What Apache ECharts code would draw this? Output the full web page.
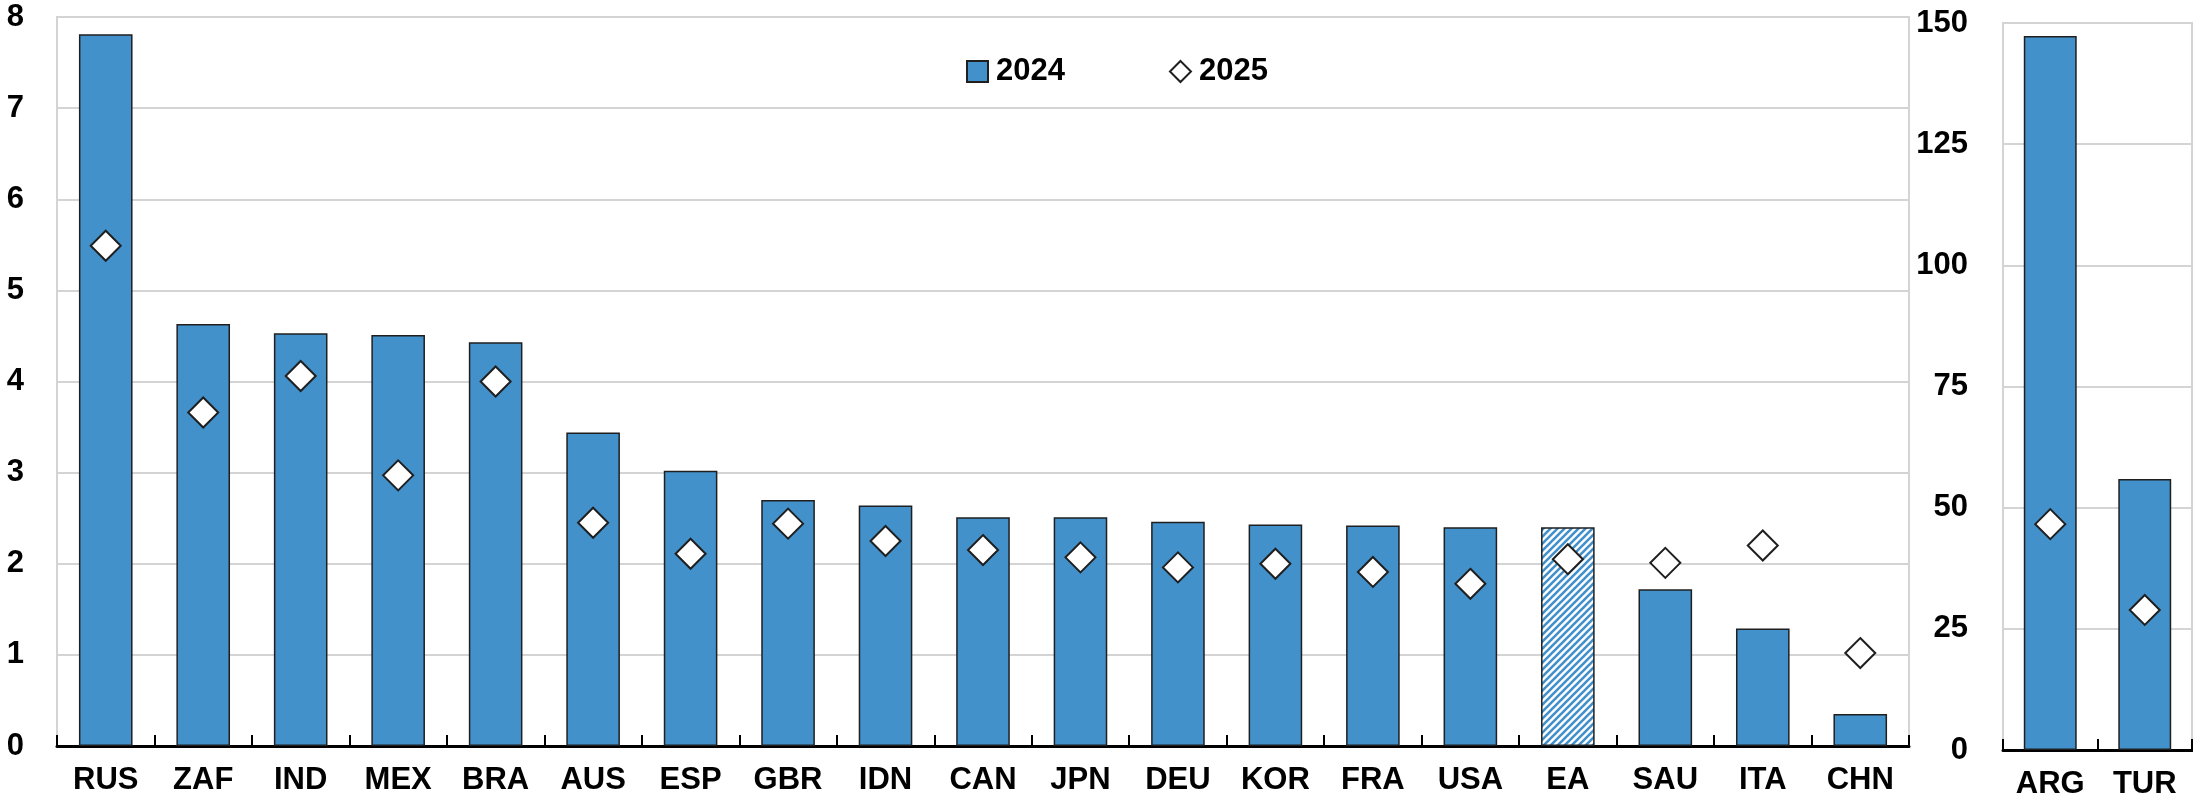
<!DOCTYPE html>
<html>
<head>
<meta charset="utf-8">
<script src="https://cdn.jsdelivr.net/npm/echarts@6/dist/echarts.min.js"></script>
<style>
html,body{margin:0;padding:0;background:#fff;}
#chart{width:2193px;height:801px;}
</style>
</head>
<body>
<div id="chart"></div>
<script>
// ---- Data ----
const mainCategories = ['RUS','ZAF','IND','MEX','BRA','AUS','ESP','GBR','IDN','CAN','JPN','DEU','KOR','FRA','USA','EA','SAU','ITA','CHN'];
const main2024 = [7.81,4.63,4.53,4.51,4.43,3.44,3.02,2.70,2.64,2.51,2.51,2.46,2.43,2.42,2.40,2.40,1.72,1.29,0.35];
const main2025 = [5.49,3.66,4.06,2.97,4.00,2.45,2.11,2.44,2.25,2.15,2.07,1.96,2.00,1.91,1.78,2.05,2.01,2.20,1.02];
const highCategories = ['ARG','TUR'];
const high2024 = [147.3,55.9];
const high2025 = [46.6,28.9];
const hatchedCategory = 'EA';
const seriesNames = ['2024','2025'];

// ---- Styles ----
const FONT = "'Liberation Sans Narrow','Arial Narrow','Liberation Sans',Arial,sans-serif";
const FS = 31;
const BLUE = '#4391CB';
const EDGE = '#1f1f1f';
const GRID = '#d4d4d4';

function hatch(){
  const s = 7;
  const c = document.createElement('canvas');
  c.width = s; c.height = s;
  const g = c.getContext('2d');
  g.fillStyle = '#ffffff'; g.fillRect(0,0,s,s);
  g.strokeStyle = BLUE; g.lineWidth = 2.6;
  g.beginPath();
  g.moveTo(-1, s+1); g.lineTo(s+1, -1);
  g.moveTo(-s/2-1, s/2+1); g.lineTo(s/2+1, -s/2-1);
  g.moveTo(s/2-1, s*1.5+1); g.lineTo(s*1.5+1, s/2-1);
  g.stroke();
  return {image: c, repeat: 'repeat'};
}
const hatchFill = hatch();

const mainBarData = main2024.map((v,i) => mainCategories[i] === hatchedCategory
  ? {value: v, itemStyle: {color: hatchFill}} : v);

const labelStyle = {fontFamily: FONT, fontSize: FS, fontWeight: 'bold', color: '#000'};

function xAxis(idx, cats){
  return {
    type: 'category', gridIndex: idx, data: cats,
    axisLine: {show: true, lineStyle: {color: '#000', width: 3}},
    axisTick: {show: true, inside: true, length: 11, lineStyle: {color: '#000', width: 2}},
    axisLabel: Object.assign({margin: 19, interval: 0}, labelStyle),
    splitLine: {show: false}
  };
}
function yAxis(idx, max, interval, margin){
  return {
    type: 'value', gridIndex: idx, min: 0, max: max, interval: interval,
    axisLine: {show: false}, axisTick: {show: false},
    axisLabel: Object.assign({margin: margin}, labelStyle),
    splitLine: {show: true, lineStyle: {color: GRID, width: 2}}
  };
}

const chart = echarts.init(document.getElementById('chart'), null, {renderer: 'canvas'});
chart.setOption({
  animation: false,
  backgroundColor: '#fff',
  legend: {
    data: [{name: seriesNames[0], icon: 'rect'}, {name: seriesNames[1], icon: 'diamond'}],
    left: 966, top: 56, padding: 0,
    itemWidth: 21, itemHeight: 21, itemGap: 104,
    textStyle: {fontFamily: FONT, fontSize: FS, fontWeight: 'bold', color: '#000', padding: [0,0,0,3]}
  },
  grid: [
    {left: 57, right: 284, top: 17, bottom: 55, show: true, borderColor: GRID, borderWidth: 2, containLabel: false},
    {left: 2003, right: 1, top: 23, bottom: 51, show: true, borderColor: GRID, borderWidth: 2, containLabel: false}
  ],
  xAxis: [xAxis(0, mainCategories), xAxis(1, highCategories)],
  yAxis: [yAxis(0, 8, 1, 33), yAxis(1, 150, 25, 35)],
  series: [
    {name: seriesNames[0], type: 'bar', xAxisIndex: 0, yAxisIndex: 0, data: mainBarData,
     barWidth: '55%', itemStyle: {color: BLUE, borderColor: EDGE, borderWidth: 1.5}, z: 2},
    {name: seriesNames[1], type: 'scatter', xAxisIndex: 0, yAxisIndex: 0, data: main2025,
     symbol: 'diamond', symbolSize: 30, itemStyle: {color: '#fff', borderColor: EDGE, borderWidth: 2, opacity: 1}, z: 5},
    {name: seriesNames[0], type: 'bar', xAxisIndex: 1, yAxisIndex: 1, data: high2024,
     barWidth: '56%', itemStyle: {color: BLUE, borderColor: EDGE, borderWidth: 1.5}, z: 2},
    {name: seriesNames[1], type: 'scatter', xAxisIndex: 1, yAxisIndex: 1, data: high2025,
     symbol: 'diamond', symbolSize: 30, itemStyle: {color: '#fff', borderColor: EDGE, borderWidth: 2, opacity: 1}, z: 5}
  ]
});
</script>
</body>
</html>
